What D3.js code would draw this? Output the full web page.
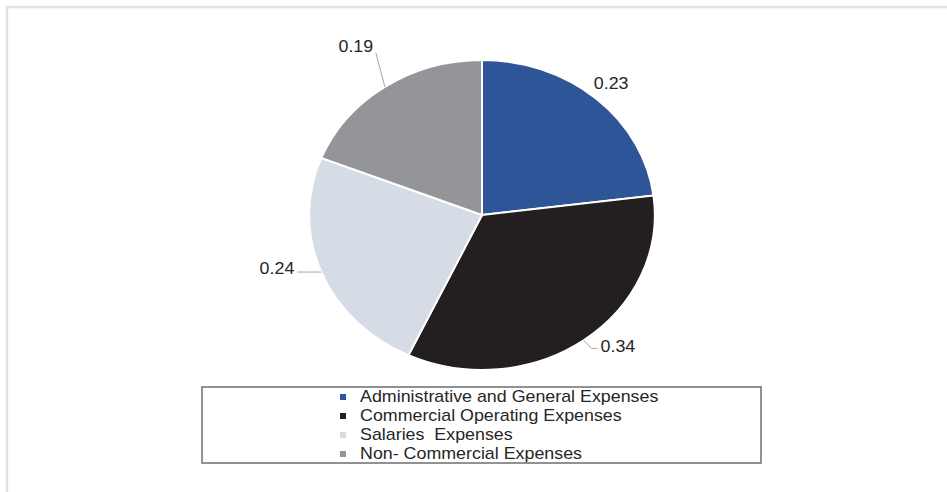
<!DOCTYPE html>
<html>
<head>
<meta charset="utf-8">
<script src="https://cdnjs.cloudflare.com/ajax/libs/d3/7.8.5/d3.min.js"></script>
<style>
  body { margin: 0; background: #fff; }
  text { font-family: "Liberation Sans", Arial, sans-serif; fill: #262626; }
</style>
</head>
<body>
<script>
// data
var categories = ["Administrative and General Expenses", "Commercial Operating Expenses", "Salaries  Expenses", "Non- Commercial Expenses"];
var values = [0.23, 0.34, 0.24, 0.19];
var colors = ["#2e5597", "#231f20", "#d6dce5", "#939598"];

var width = 947, height = 492;
var cx = 482, cy = 215, r = 155;
var sx = 1.115; // the picture is a bit wider than tall

var svg = d3.select("body").append("svg")
  .attr("width", width)
  .attr("height", height);

// outer frame
svg.append("rect")
  .attr("x", 7).attr("y", 7)
  .attr("width", width + 20).attr("height", height + 20)
  .attr("fill", "none")
  .attr("stroke", "#dfe2e1")
  .attr("stroke-width", 2.5);

var pie = d3.pie().sort(null).value(function(d){ return d; });
var arcs = pie(values);
var arc = d3.arc().innerRadius(0).outerRadius(r);

var g = svg.append("g")
  .attr("transform", "translate(" + cx + "," + cy + ") scale(" + sx + ",1)");

g.selectAll("path")
  .data(arcs)
  .enter()
  .append("path")
  .attr("d", arc)
  .attr("fill", function(d,i){ return colors[i]; })
  .attr("stroke", "#fff")
  .attr("stroke-width", 2)
  .attr("vector-effect", "non-scaling-stroke");

// point on the rim at mid angle, page coords
function rim(d, k) {
  var a = (d.startAngle + d.endAngle) / 2;
  return [cx + sx * r * k * Math.sin(a), cy - r * k * Math.cos(a)];
}

// label layout, Excel moved them around by hand
var labelPos = [
  { k: 1.13, anchor: "middle", tx: 0, ty: 5, line: null },
  { k: 1.0, anchor: "start", tx: 17, ty: 12, line: [[0,0],[8,8],[14,8]] },
  { k: 1.0, anchor: "end", tx: -27, ty: 2, line: [[0,0],[-13,0],[-24,0]] },
  { k: 1.0, anchor: "middle", tx: -29, ty: -35, line: [[0,0],[-9,-34]] }
];

var line = d3.line();
arcs.forEach(function(d, i) {
  var lp = labelPos[i];
  var p = rim(d, lp.k);
  if (lp.line) {
    svg.append("path")
      .attr("d", line(lp.line.map(function(q){ return [p[0] + q[0], p[1] + q[1]]; })))
      .attr("fill", "none")
      .attr("stroke", "#a6a6a6")
      .attr("stroke-width", 1);
  }
  svg.append("text")
    .attr("transform", "translate(" + (p[0] + lp.tx) + "," + (p[1] + lp.ty) + ") scale(" + sx + ",1)")
    .attr("text-anchor", lp.anchor)
    .style("font-size", "16px")
    .text(d3.format(".2f")(values[i]));
});

// legend
var legend = svg.append("g");
legend.append("rect")
  .attr("x", 202).attr("y", 387)
  .attr("width", 559).attr("height", 76)
  .attr("fill", "#fff")
  .attr("stroke", "#6e6e6e")
  .attr("stroke-width", 1.5);

var rowY = d3.scaleLinear().domain([0, 3]).range([402, 459]);

var items = legend.selectAll("g.item")
  .data(categories)
  .enter()
  .append("g")
  .attr("class", "item");

items.append("rect")
  .attr("x", 340)
  .attr("y", function(d,i){ return rowY(i) - 8; })
  .attr("width", 6).attr("height", 6)
  .attr("fill", function(d,i){ return colors[i]; });

items.append("text")
  .attr("transform", function(d,i){ return "translate(360," + rowY(i) + ") scale(" + sx + ",1)"; })
  .style("font-size", "16px")
  .style("white-space", "pre")
  .attr("xml:space", "preserve")
  .text(function(d){ return d; });
</script>
</body>
</html>
